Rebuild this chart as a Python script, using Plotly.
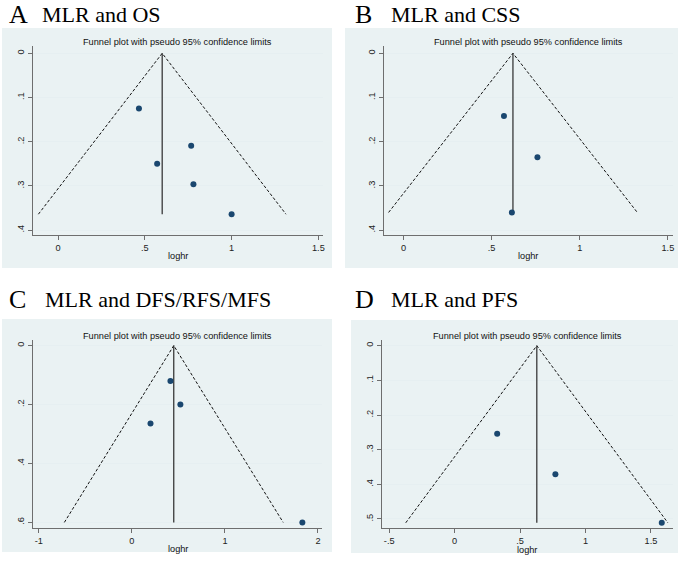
import plotly.graph_objects as go

W, H = 685, 562

# ---------------- data ----------------
panel_letters = ["A", "B", "C", "D"]
panel_names = ["MLR and OS", "MLR and CSS", "MLR and DFS/RFS/MFS", "MLR and PFS"]

a_loghr = [0.466, 0.767, 0.571, 0.780, 1.000]
a_se = [0.125, 0.209, 0.250, 0.296, 0.364]
a_pooled = 0.600

b_loghr = [0.570, 0.760, 0.615]
b_se = [0.142, 0.235, 0.360]
b_pooled = 0.621

c_loghr = [0.414, 0.521, 0.200, 1.832]
c_se = [0.120, 0.200, 0.264, 0.600]
c_pooled = 0.450

d_loghr = [0.325, 0.770, 1.583]
d_se = [0.254, 0.371, 0.511]
d_pooled = 0.628

a_xticks = [0, 0.5, 1, 1.5]
a_xtext = ["0", ".5", "1", "1.5"]
a_yticks = [0, 0.1, 0.2, 0.3, 0.4]
a_ytext = ["0", ".1", ".2", ".3", ".4"]
b_xticks = [0, 0.5, 1, 1.5]
b_xtext = ["0", ".5", "1", "1.5"]
b_yticks = [0, 0.1, 0.2, 0.3, 0.4]
b_ytext = ["0", ".1", ".2", ".3", ".4"]
c_xticks = [-1, 0, 1, 2]
c_xtext = ["-1", "0", "1", "2"]
c_yticks = [0, 0.2, 0.4, 0.6]
c_ytext = ["0", ".2", ".4", ".6"]
d_xticks = [-0.5, 0, 0.5, 1, 1.5]
d_xtext = ["-.5", "0", ".5", "1", "1.5"]
d_yticks = [0, 0.1, 0.2, 0.3, 0.4, 0.5]
d_ytext = ["0", ".1", ".2", ".3", ".4", ".5"]

funnel_title = "Funnel plot with pseudo 95% confidence limits"
x_title = "loghr"

# ---------------- layout geometry (pixels) ----------------
panels = [
    dict(x=a_loghr, se=a_se, pooled=a_pooled, xt=a_xticks, xl=a_xtext, yt=a_yticks, yl=a_ytext,
         box=(2, 28, 333, 268), plot=(33, 46, 324, 235), xr=(-0.145, 1.527), yr=(0.411, -0.0165),
         letter=(7, 14), name=(40, 14), xtitle_dy=21),
    dict(x=b_loghr, se=b_se, pooled=b_pooled, xt=b_xticks, xl=b_xtext, yt=b_yticks, yl=b_ytext,
         box=(346, 28, 680, 268), plot=(384.7, 46, 675.3, 235), xr=(-0.113, 1.531), yr=(0.411, -0.0165),
         letter=(354, 14), name=(390, 14), xtitle_dy=21),
    dict(x=c_loghr, se=c_se, pooled=c_pooled, xt=c_xticks, xl=c_xtext, yt=c_yticks, yl=c_ytext,
         box=(2, 319, 333, 552), plot=(33, 340, 323.3, 528), xr=(-1.064, 2.047), yr=(0.619, -0.019),
         letter=(7, 299), name=(43, 299), xtitle_dy=21),
    dict(x=d_loghr, se=d_se, pooled=d_pooled, xt=d_xticks, xl=d_xtext, yt=d_yticks, yl=d_ytext,
         box=(352, 320, 680, 553), plot=(383, 340, 675, 528), xr=(-0.556, 1.669), yr=(0.526, -0.0164),
         letter=(354, 299), name=(390, 299), xtitle_dy=22),
]

BG = "#EAF2F3"
GRID = "#E6EFF1"
NAVY = "#1A476F"
AX = "#6E6E6E"
SANS = "Liberation Sans, Arial, sans-serif"
SERIF = "Liberation Serif, Times New Roman, serif"


def px(x):
    return x / W


def py(y):
    return 1 - y / H


fig = go.Figure()
shapes = []
annotations = []

for i, p in enumerate(panels):
    k = "" if i == 0 else str(i + 1)
    xa, ya = "x" + k, "y" + k
    smax = max(p["se"])
    lo = p["pooled"] - 1.96 * smax
    hi = p["pooled"] + 1.96 * smax
    # funnel limits
    fig.add_trace(go.Scatter(x=[lo, p["pooled"], hi], y=[smax, 0, smax], mode="lines",
                             line=dict(color="#111111", width=1, dash="3px,2px"),
                             xaxis=xa, yaxis=ya, showlegend=False, hoverinfo="skip"))
    # pooled estimate line
    fig.add_trace(go.Scatter(x=[p["pooled"], p["pooled"]], y=[0, smax], mode="lines",
                             line=dict(color="#2a2a2a", width=1.2),
                             xaxis=xa, yaxis=ya, showlegend=False, hoverinfo="skip"))
    # studies
    fig.add_trace(go.Scatter(x=p["x"], y=p["se"], mode="markers",
                             marker=dict(color=NAVY, size=6),
                             xaxis=xa, yaxis=ya, showlegend=False))

    x0, y0, x1, y1 = p["plot"]
    fig.layout["xaxis" + k] = dict(
        domain=[px(x0), px(x1)], range=list(p["xr"]), anchor=ya,
        tickvals=p["xt"], ticktext=p["xl"], ticks="outside", ticklen=4, tickcolor=AX,
        showline=True, linecolor=AX, linewidth=1, showgrid=False, zeroline=False,
        tickfont=dict(family=SANS, size=9.2, color="#222222"), fixedrange=True)
    fig.layout["yaxis" + k] = dict(
        domain=[py(y1), py(y0)], range=list(p["yr"]), anchor=xa,
        tickvals=p["yt"], ticktext=p["yl"], ticks="outside", ticklen=4, tickcolor=AX,
        tickangle=-90, showline=True, linecolor=AX, linewidth=1, showgrid=True,
        gridcolor=GRID, gridwidth=1, zeroline=False,
        tickfont=dict(family=SANS, size=9.2, color="#222222"), fixedrange=True)

    bx0, by0, bx1, by1 = p["box"]
    shapes.append(dict(type="rect", xref="paper", yref="paper", x0=px(bx0), x1=px(bx1),
                       y0=py(by1), y1=py(by0), fillcolor=BG, line=dict(width=0), layer="below"))

    # funnel title
    annotations.append(dict(text=funnel_title, xref="paper", yref="paper",
                            x=px((x0 + x1) / 2), y=py(y0 - 4), xanchor="center", yanchor="middle",
                            showarrow=False, borderpad=0,
                            font=dict(family=SANS, size=9.2, color="#111111")))
    # x-axis title
    annotations.append(dict(text=x_title, xref="paper", yref="paper",
                            x=px((x0 + x1) / 2), y=py(y1 + p["xtitle_dy"]), xanchor="center",
                            yanchor="middle", showarrow=False, borderpad=0,
                            font=dict(family=SANS, size=9.2, color="#111111")))
    # panel heading
    lx, ly = p["letter"]
    annotations.append(dict(text=panel_letters[i], xref="paper", yref="paper",
                            x=px(lx), y=py(ly), xanchor="left", yanchor="middle",
                            showarrow=False, font=dict(family=SERIF, size=26, color="#000000")))
    nx, ny = p["name"]
    annotations.append(dict(text=panel_names[i], xref="paper", yref="paper",
                            x=px(nx), y=py(ny), xanchor="left", yanchor="middle",
                            showarrow=False, font=dict(family=SERIF, size=22, color="#000000")))

fig.update_layout(width=W, height=H, margin=dict(l=0, r=0, t=0, b=0),
                  paper_bgcolor="white", plot_bgcolor="white",
                  shapes=shapes, annotations=annotations, showlegend=False)

fig.write_html("out.html", config={"displayModeBar": False},
               post_script="document.body.style.margin='0px';document.body.style.overflow='hidden';")
